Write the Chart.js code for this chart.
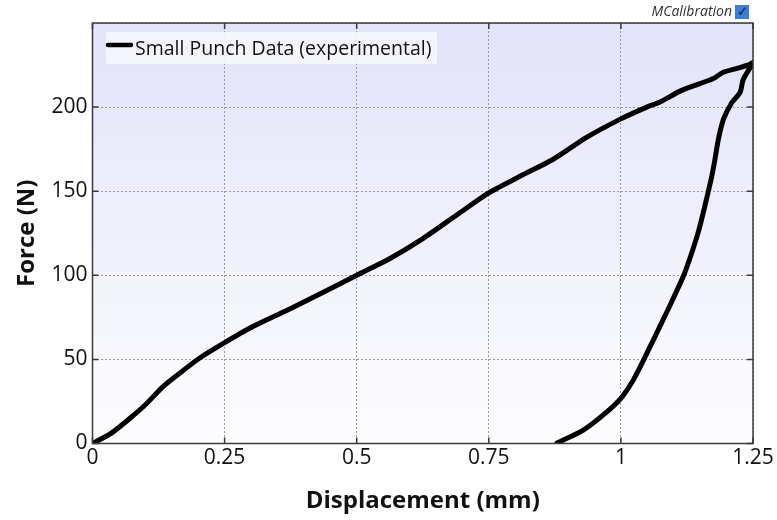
<!DOCTYPE html>
<html>
<head>
<meta charset="utf-8">
<script src="https://cdn.jsdelivr.net/npm/chart.js@4/dist/chart.umd.min.js"></script>
<style>
  html, body { margin: 0; padding: 0; background: #fff; }
  #wrap { width: 777px; height: 520px; }
</style>
</head>
<body>
<div id="wrap"><canvas id="grafico"></canvas></div>
<script>
// loading branch (displacement mm, force N)
const cargaX = [0, 0.035, 0.071, 0.1, 0.134, 0.17, 0.2035, 0.25, 0.3, 0.38, 0.45, 0.5, 0.563, 0.626, 0.69, 0.75, 0.81, 0.872, 0.935, 1.0, 1.049, 1.074, 1.112, 1.15, 1.175, 1.193, 1.22, 1.244, 1.25];
const cargaY = [0, 6, 15, 23, 34, 43, 51, 60, 69, 81, 92, 100, 110, 122, 136, 149, 159, 169, 182, 193, 200, 203, 209.5, 214, 217, 220.6, 223, 225.4, 226.5];
// unloading branch
const descargaX = [1.2317, 1.2254, 1.2097, 1.194, 1.1844, 1.178, 1.172, 1.1655, 1.1557, 1.146, 1.134, 1.119, 1.1024, 1.0867, 1.0613, 1.0424, 1.0235, 1.0, 0.9667, 0.9289, 0.8848, 0.879];
const descargaY = [216.5, 208.6, 202.6, 192.7, 180.8, 168.9, 158.9, 150, 137, 125.2, 113.3, 100, 88.5, 78, 61.5, 49.3, 37.8, 26.9, 17, 8, 1.1, 0.3];

const ticksX = [0, 0.25, 0.5, 0.75, 1, 1.25];
const ticksY = [0, 50, 100, 150, 200];
const serie = "Small Punch Data (experimental)";

const puntos = cargaX.map((x, i) => ({ x, y: cargaY[i] }))
  .concat(descargaX.map((x, i) => ({ x, y: descargaY[i] })));

const fuente = "'Open Sans', 'Noto Sans', sans-serif";

const fondo = {
  id: "fondo",
  beforeDraw(chart) {
    const { ctx, chartArea: a } = chart;
    const g = ctx.createLinearGradient(0, a.top, 0, a.bottom);
    g.addColorStop(0, "#e3e3fa");
    g.addColorStop(1, "#fdfdff");
    ctx.save();
    ctx.fillStyle = g;
    ctx.fillRect(a.left, a.top, a.right - a.left, a.bottom - a.top);
    ctx.restore();
  },
  afterDatasetsDraw(chart) {
    const { ctx, chartArea: a, scales } = chart;
    ctx.save();
    // frame
    ctx.strokeStyle = "#3a3a3a";
    ctx.lineWidth = 1.5;
    ctx.strokeRect(a.left, a.top, a.right - a.left, a.bottom - a.top);
    // inward ticks
    ctx.beginPath();
    ticksX.forEach(v => {
      const px = scales.x.getPixelForValue(v);
      ctx.moveTo(px, a.bottom); ctx.lineTo(px, a.bottom - 6);
      ctx.moveTo(px, a.top); ctx.lineTo(px, a.top + 6);
    });
    ticksY.forEach(v => {
      const py = scales.y.getPixelForValue(v);
      ctx.moveTo(a.left, py); ctx.lineTo(a.left + 6, py);
      ctx.moveTo(a.right, py); ctx.lineTo(a.right - 6, py);
    });
    ctx.stroke();

    // legend box
    ctx.fillStyle = "rgba(248,248,255,0.85)";
    ctx.fillRect(106, 32, 331, 32);
    ctx.strokeStyle = "#000";
    ctx.lineWidth = 4.5;
    ctx.lineCap = "round";
    ctx.beginPath();
    ctx.moveTo(108, 45); ctx.lineTo(131, 45);
    ctx.stroke();
    ctx.fillStyle = "#111";
    ctx.font = "19.5px " + fuente;
    ctx.textBaseline = "middle";
    ctx.textAlign = "left";
    ctx.fillText(serie, 135, 49);

    // watermark
    ctx.font = "italic 14px " + fuente;
    ctx.fillStyle = "#333";
    ctx.textAlign = "right";
    ctx.fillText("MCalibration", 732, 12);
    ctx.fillStyle = "#3d7fd6";
    ctx.fillRect(735, 5, 14, 14);
    ctx.fillStyle = "#123a7a";
    ctx.font = "bold 13px " + fuente;
    ctx.textAlign = "center";
    ctx.fillText("\u2713", 742, 12);
    ctx.restore();
  }
};

new Chart(document.getElementById("grafico"), {
  type: "scatter",
  data: {
    datasets: [{
      label: serie,
      data: puntos,
      showLine: true,
      borderColor: "#000",
      backgroundColor: "#000",
      borderWidth: 5,
      borderCapStyle: "round",
      borderJoinStyle: "round",
      pointRadius: 0,
      tension: 0.25
    }]
  },
  options: {
    responsive: true,
    maintainAspectRatio: false,
    animation: false,
    layout: { padding: { left: 0, top: 23, right: 24, bottom: 0 } },
    plugins: { legend: { display: false }, tooltip: { enabled: false } },
    scales: {
      x: {
        type: "linear",
        min: 0, max: 1.25,
        afterBuildTicks: s => { s.ticks = ticksX.map(v => ({ value: v })); },
        afterFit: s => { s.height = 76.5; },
        ticks: {
          color: "#111",
          font: { family: fuente, size: 21 },
          padding: 2,
          maxRotation: 0,
          callback: v => String(+v.toFixed(2))
        },
        grid: { color: "#999", drawTicks: false, tickLength: 0 },
        border: { display: false, dash: [2, 2] },
        title: {
          display: true,
          text: "Displacement (mm)",
          color: "#111",
          font: { family: fuente, size: 24, weight: "bold" },
          padding: { top: 0, bottom: 4 }
        }
      },
      y: {
        type: "linear",
        min: 0, max: 250,
        afterBuildTicks: s => { s.ticks = ticksY.concat([250]).map(v => ({ value: v })); },
        afterFit: s => { s.width = 92.5; },
        ticks: {
          color: "#111",
          font: { family: fuente, size: 21 },
          padding: 5,
          callback: v => (v === 250 ? "" : String(v))
        },
        grid: { color: "#999", drawTicks: false, tickLength: 0 },
        border: { display: false, dash: [2, 2] },
        title: {
          display: true,
          text: "Force (N)",
          color: "#111",
          font: { family: fuente, size: 24, weight: "bold" },
          padding: { top: 13, bottom: 0 }
        }
      }
    }
  },
  plugins: [fondo]
});
</script>
</body>
</html>
